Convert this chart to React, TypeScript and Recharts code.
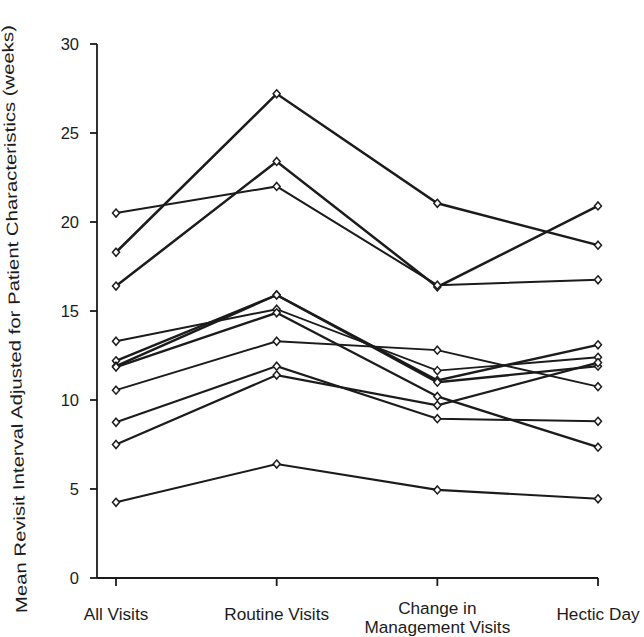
import React from "react";
import { LineChart, Line, XAxis, YAxis, Label } from "recharts";

// visit types along the x axis
const CATEGORIES = [
  "All Visits",
  "Routine Visits",
  "Change in Management Visits",
  "Hectic Day",
];
const TICK_LINES = [
  ["All Visits"],
  ["Routine Visits"],
  ["Change in", "Management Visits"],
  ["Hectic Day"],
];
const Y_TICKS = [0, 5, 10, 15, 20, 25, 30];

// mean revisit interval (weeks) per patient group
const GROUP_1 = [18.3, 27.2, 21.05, 18.7];
const GROUP_2 = [16.4, 23.4, 16.35, 20.9];
const GROUP_3 = [20.5, 22.0, 16.45, 16.75];
const GROUP_4 = [12.2, 15.9, 11.1, 13.1];
const GROUP_5 = [11.9, 15.9, 11.0, 11.9];
const GROUP_6 = [13.3, 15.1, 11.65, 12.4];
const GROUP_7 = [11.85, 14.9, 10.2, 7.35];
const GROUP_8 = [10.55, 13.3, 12.8, 10.75];
const GROUP_9 = [8.75, 11.9, 8.95, 8.8];
const GROUP_10 = [7.5, 11.4, 9.7, 12.1];
const GROUP_11 = [4.25, 6.4, 4.95, 4.45];

const GROUPS = [
  { key: "g1", values: GROUP_1, width: 2.5 },
  { key: "g2", values: GROUP_2, width: 2.5 },
  { key: "g3", values: GROUP_3, width: 2 },
  { key: "g4", values: GROUP_4, width: 2.4 },
  { key: "g5", values: GROUP_5, width: 2.4 },
  { key: "g6", values: GROUP_6, width: 1.9 },
  { key: "g7", values: GROUP_7, width: 2.4 },
  { key: "g8", values: GROUP_8, width: 1.9 },
  { key: "g9", values: GROUP_9, width: 2 },
  { key: "g10", values: GROUP_10, width: 2.2 },
  { key: "g11", values: GROUP_11, width: 2.1 },
];

const INK = "#1b1b1b";
const FONT = "'Liberation Sans', Arial, Helvetica, sans-serif";

const data = CATEGORIES.map((name, i) => {
  const row: Record<string, number | string> = { name };
  GROUPS.forEach((g) => {
    row[g.key] = g.values[i];
  });
  return row;
});

const Diamond = (props: any) => {
  const { cx, cy } = props;
  if (cx == null || cy == null) return null;
  return (
    <path
      d={`M${cx},${cy - 4}L${cx + 3.5},${cy}L${cx},${cy + 4}L${cx - 3.5},${cy}Z`}
      fill="#fff"
      stroke={INK}
      strokeWidth={1.5}
    />
  );
};

const CategoryTick = (props: any) => {
  const { x, y, index } = props;
  const lines = TICK_LINES[index] || [];
  const first = lines.length > 1 ? 26 : 32;
  return (
    <text
      x={x}
      y={y}
      textAnchor="middle"
      fill={INK}
      fontSize={17.2}
      fontFamily={FONT}
    >
      {lines.map((ln, i) => (
        <tspan key={i} x={x} dy={i === 0 ? first : 19}>
          {ln}
        </tspan>
      ))}
    </text>
  );
};

// the scanned axis title is a little tilted and stretched along its length
const YTitle = () => (
  <text
    transform="translate(20,319) rotate(-91.4)"
    textAnchor="middle"
    fill={INK}
    fontSize={16}
    fontFamily={FONT}
    textLength={588}
    lengthAdjust="spacingAndGlyphs"
  >
    Mean Revisit Interval Adjusted for Patient Characteristics (weeks)
  </text>
);

export default function App() {
  return (
    <div
      style={{
        position: "absolute",
        left: 0,
        top: 0,
        width: 644,
        height: 637,
        background: "#fff",
      }}
    >
      <LineChart
        width={644}
        height={637}
        data={data}
        margin={{ top: 44, right: 46, bottom: 19, left: 0 }}
      >
        <XAxis
          dataKey="name"
          interval={0}
          padding={{ left: 19, right: 0 }}
          height={40}
          tickSize={8}
          tick={<CategoryTick />}
          axisLine={{ stroke: INK, strokeWidth: 1.8 }}
          tickLine={{ stroke: INK, strokeWidth: 1.8 }}
        />
        <YAxis
          width={97}
          domain={[0, 30]}
          ticks={Y_TICKS}
          tickSize={7}
          tickMargin={11}
          axisLine={{ stroke: INK, strokeWidth: 1.8 }}
          tickLine={{ stroke: INK, strokeWidth: 1.8 }}
          tick={{ fill: INK, fontSize: 16.5, fontFamily: FONT }}
        >
          <Label content={<YTitle />} />
        </YAxis>
        {GROUPS.map((g) => (
          <Line
            key={g.key}
            dataKey={g.key}
            type="linear"
            stroke={INK}
            strokeWidth={g.width}
            dot={<Diamond />}
            activeDot={false}
            isAnimationActive={false}
          />
        ))}
      </LineChart>
    </div>
  );
}
